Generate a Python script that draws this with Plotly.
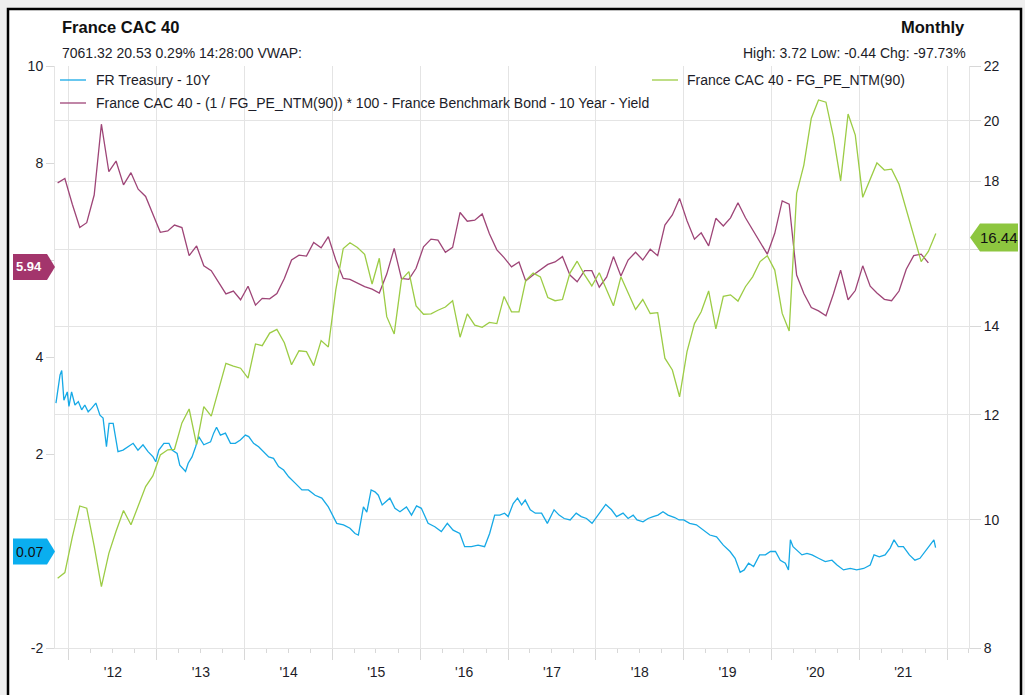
import math
import pandas as pd
import plotly.graph_objects as go

# ---- data ----
# FR Treasury - 10Y (daily series, sampled)
treasury_dates = [
    "2011-11-08", "2011-11-25", "2011-12-02", "2011-12-11", "2011-12-25",
    "2012-01-01", "2012-01-12", "2012-01-26", "2012-02-09", "2012-02-23", "2012-03-07",
    "2012-03-21", "2012-04-04", "2012-04-22", "2012-05-09", "2012-05-22", "2012-06-05",
    "2012-06-16", "2012-07-03", "2012-07-17", "2012-07-23", "2012-08-13", "2012-09-03",
    "2012-09-24", "2012-10-14", "2012-11-04", "2012-11-25", "2012-12-16", "2012-12-27",
    "2013-01-09", "2013-01-30", "2013-02-20", "2013-03-05", "2013-03-26", "2013-04-06",
    "2013-04-30", "2013-05-11", "2013-05-27", "2013-06-11", "2013-06-24", "2013-07-15",
    "2013-08-12", "2013-08-25", "2013-09-06", "2013-09-22", "2013-10-13", "2013-11-03",
    "2013-11-23", "2013-12-14",
    "2014-01-04", "2014-01-18", "2014-02-07", "2014-02-28", "2014-03-21", "2014-04-11",
    "2014-05-01", "2014-05-22", "2014-06-12", "2014-07-03", "2014-07-30", "2014-08-27",
    "2014-09-23", "2014-10-21", "2014-11-18", "2014-12-15",
    "2015-01-19", "2015-02-16", "2015-03-15", "2015-04-05", "2015-04-19", "2015-05-10",
    "2015-05-24", "2015-06-11", "2015-06-27", "2015-07-11", "2015-07-27", "2015-08-14",
    "2015-08-28", "2015-09-18", "2015-10-09", "2015-11-05", "2015-11-26", "2015-12-17",
    "2016-01-06", "2016-02-03", "2016-03-02", "2016-03-29", "2016-04-23", "2016-05-17",
    "2016-06-14", "2016-07-04", "2016-08-01", "2016-08-29", "2016-09-25", "2016-10-16",
    "2016-11-06", "2016-11-27", "2016-12-17",
    "2017-01-01", "2017-01-22", "2017-02-09", "2017-02-26", "2017-03-13", "2017-04-03",
    "2017-04-24", "2017-05-20", "2017-06-13", "2017-07-11", "2017-08-01", "2017-08-22",
    "2017-09-16", "2017-10-11", "2017-11-01", "2017-11-23", "2017-12-16",
    "2018-01-11", "2018-02-11", "2018-03-07", "2018-03-28", "2018-04-24", "2018-05-15",
    "2018-06-05", "2018-06-21", "2018-07-16", "2018-08-06", "2018-08-27", "2018-09-16",
    "2018-10-07", "2018-10-28", "2018-11-25", "2018-12-13",
    "2019-01-01", "2019-01-26", "2019-02-23", "2019-03-23", "2019-04-20", "2019-05-18",
    "2019-06-15", "2019-07-13", "2019-08-03", "2019-08-24", "2019-09-10", "2019-09-28",
    "2019-10-19", "2019-11-13", "2019-12-07", "2019-12-28",
    "2020-01-18", "2020-02-07", "2020-02-28", "2020-03-12", "2020-03-20", "2020-03-31",
    "2020-04-23", "2020-05-07", "2020-05-28", "2020-06-18", "2020-07-15", "2020-08-12",
    "2020-09-09", "2020-09-30", "2020-10-27", "2020-11-24", "2020-12-21",
    "2021-01-19", "2021-02-15", "2021-03-03", "2021-03-25", "2021-04-18", "2021-05-09",
    "2021-05-25", "2021-06-12", "2021-07-03", "2021-07-28", "2021-08-20", "2021-09-10",
    "2021-10-01", "2021-10-21", "2021-11-07", "2021-11-14",
]
treasury_yield = [
    3.05, 3.63, 3.72, 3.11, 3.28,
    2.98, 3.28, 3.01, 3.08, 2.91, 3.01, 2.87, 2.94, 3.05, 2.80, 2.74, 2.15,
    2.63, 2.63, 2.22, 2.05, 2.08, 2.15, 2.22, 2.08, 2.19, 2.05, 1.94, 1.84,
    2.08, 2.22, 2.22, 2.08, 2.01, 1.77, 1.64, 1.81, 1.94, 2.15, 2.36, 2.19,
    2.25, 2.43, 2.55, 2.39, 2.43, 2.22, 2.22, 2.29,
    2.39, 2.36, 2.22, 2.15, 2.05, 1.94, 1.91, 1.74, 1.67, 1.53, 1.40, 1.26,
    1.26, 1.15, 1.09, 0.91,
    0.57, 0.54, 0.47, 0.36, 0.33, 0.91, 0.80, 1.26, 1.22, 1.15, 0.95, 1.02,
    1.09, 0.88, 0.81, 0.91, 0.74, 0.93,
    0.88, 0.57, 0.50, 0.40, 0.57, 0.43, 0.36, 0.09, 0.09, 0.12, 0.09, 0.36,
    0.74, 0.74, 0.78,
    0.71, 0.98, 1.09, 0.95, 1.05, 0.85, 0.78, 0.78, 0.57, 0.85, 0.74, 0.67,
    0.64, 0.78, 0.71, 0.67, 0.57,
    0.74, 0.96, 0.85, 0.71, 0.78, 0.67, 0.74, 0.64, 0.60, 0.67, 0.71, 0.74,
    0.81, 0.74, 0.69, 0.64,
    0.64, 0.57, 0.54, 0.43, 0.33, 0.29, 0.12, -0.01, -0.15, -0.44, -0.39, -0.25,
    -0.32, -0.08, -0.08, -0.01,
    -0.01, -0.19, -0.25, -0.39, 0.23, 0.09, -0.01, -0.08, -0.05, -0.08, -0.15, -0.22,
    -0.19, -0.29, -0.39, -0.36, -0.39,
    -0.36, -0.29, -0.08, -0.12, -0.08, 0.06, 0.23, 0.09, 0.09, -0.08, -0.19, -0.15,
    -0.01, 0.12, 0.23, 0.07,
]

# monthly series, Nov 2011 onwards
month_dates = pd.date_range("2011-11-01", periods=121, freq="MS") + pd.Timedelta(days=14)

# (1 / FG_PE_NTM) * 100 - 10Y yield  (left axis)
spread = [
    7.59, 7.68, 7.15, 6.67, 6.77, 7.34, 8.80, 7.82, 8.04, 7.55,
    7.80, 7.46, 7.31, 6.95, 6.57, 6.60, 6.72, 6.67, 6.09, 6.29,
    5.88, 5.78, 5.55, 5.30, 5.36, 5.18, 5.46, 5.07, 5.21, 5.20,
    5.31, 5.62, 6.00, 6.10, 6.08, 6.36, 6.25, 6.48, 6.00, 5.62,
    5.60, 5.52, 5.45, 5.40, 5.32, 5.71, 6.24, 5.62, 5.60, 5.83,
    6.27, 6.43, 6.41, 6.16, 6.26, 6.98, 6.80, 6.82, 6.95, 6.54,
    6.21, 6.05, 5.86, 5.96, 5.57, 5.69, 5.79, 5.91, 5.96, 6.07,
    5.69, 5.55, 5.78, 5.78, 5.44, 5.65, 6.07, 5.67, 6.00, 6.16,
    6.00, 6.22, 6.09, 6.72, 6.93, 7.27, 6.81, 6.43, 6.56, 6.29,
    6.86, 6.70, 6.87, 7.18, 6.87, 6.62, 6.37, 6.12, 6.55, 7.22,
    7.15, 5.69, 5.31, 5.02, 4.95, 4.85, 5.30, 5.79, 5.18, 5.37,
    5.88, 5.46, 5.32, 5.19, 5.16, 5.36, 5.81, 6.09, 6.12, 5.94,
]

# FG_PE_NTM(90)  (right, log axis)
pe_ntm = [
    9.03, 9.12, 9.70, 10.24, 10.20, 9.55, 8.90, 9.43, 9.80, 10.16,
    9.91, 10.25, 10.59, 10.79, 11.19, 11.29, 11.30, 11.83, 12.12, 11.39,
    12.17, 11.97, 12.55, 13.12, 13.06, 13.01, 12.79, 13.57, 13.53, 13.83,
    13.92, 13.60, 13.09, 13.41, 13.39, 13.07, 13.65, 13.50, 14.91, 16.02,
    16.18, 16.05, 15.86, 15.06, 15.75, 14.23, 13.81, 15.17, 15.39, 14.50,
    14.29, 14.30, 14.39, 14.47, 14.63, 13.73, 14.30, 14.02, 13.97, 14.09,
    14.06, 14.74, 14.35, 14.35, 15.15, 15.35, 15.25, 14.71, 14.63, 14.66,
    15.35, 15.67, 15.30, 15.01, 15.36, 14.91, 14.50, 15.25, 14.85, 14.41,
    14.66, 14.31, 14.33, 13.24, 12.97, 12.38, 13.39, 14.06, 14.35, 14.88,
    13.93, 14.74, 14.78, 14.62, 14.99, 15.25, 15.66, 15.82, 15.43, 14.31,
    13.88, 17.63, 18.52, 20.09, 20.74, 20.66, 19.45, 18.02, 20.24, 19.51,
    17.51, 18.06, 18.59, 18.36, 18.39, 17.91, 17.13, 16.40, 15.66, 15.94,
    16.44,
]

# tick labels; 6, 0 and 16 sit under the last-value badges
left_ticks = [-2, 0, 2, 4, 6, 8, 10]
left_ticktext = ["-2", "", "2", "4", "", "8", "10"]
right_ticks = [8, 10, 12, 14, 16, 18, 20, 22]
right_ticktext = ["8", "10", "12", "14", "", "18", "20", "22"]

names = [
    "FR Treasury - 10Y",
    "France CAC 40 - (1 / FG_PE_NTM(90)) * 100 - France Benchmark Bond - 10 Year - Yield",
    "France CAC 40 - FG_PE_NTM(90)",
]

BLUE = "#16a9e6"
PURPLE = "#9e4577"
GREEN = "#9ccc45"
FONT = "Liberation Sans, Arial, sans-serif"
TXT = "#1c1c28"
GRID = "#e4e4e4"

W, H = 1025, 695
L, R, T, B = 55, 56, 66, 47
PW, PH = W - L - R, H - T - B


def px(x):
    return (x - L) / PW


def py(y):
    return (H - B - y) / PH


fig = go.Figure()
fig.add_trace(go.Scatter(x=treasury_dates, y=treasury_yield, name=names[0], mode="lines",
                         line=dict(color=BLUE, width=1.3), yaxis="y"))
fig.add_trace(go.Scatter(x=month_dates[:len(spread)], y=spread, name=names[1], mode="lines",
                         line=dict(color=PURPLE, width=1.3), yaxis="y"))
fig.add_trace(go.Scatter(x=month_dates[:len(pe_ntm)], y=pe_ntm, name=names[2], mode="lines",
                         line=dict(color=GREEN, width=1.3), yaxis="y2"))

shapes = [
    # outer frame
    dict(type="rect", xref="paper", yref="paper", x0=px(8), x1=px(1021), y0=py(720), y1=py(9),
         fillcolor="white", line=dict(color="black", width=2.5), layer="below"),
    # legend samples
    dict(type="line", xref="paper", yref="paper", x0=px(60), x1=px(86), y0=py(80), y1=py(80),
         line=dict(color=BLUE, width=1.3)),
    dict(type="line", xref="paper", yref="paper", x0=px(60), x1=px(86), y0=py(103), y1=py(103),
         line=dict(color=PURPLE, width=1.3)),
    dict(type="line", xref="paper", yref="paper", x0=px(652), x1=px(678), y0=py(80), y1=py(80),
         line=dict(color=GREEN, width=1.3)),
]

# last-value badges
left_badge = "M -42,-17 L -8,-17 L 0,-4 L -8,9 L -42,9 Z"
shapes.append(dict(type="path", path=left_badge, xref="paper", yref="y", xsizemode="pixel",
                   ysizemode="pixel", xanchor=0, yanchor=spread[-1], fillcolor="#a3356c",
                   line=dict(width=0), layer="above"))
shapes.append(dict(type="path", path=left_badge, xref="paper", yref="y", xsizemode="pixel",
                   ysizemode="pixel", xanchor=0, yanchor=treasury_yield[-1], fillcolor="#0aaeef",
                   line=dict(width=0), layer="above"))
shapes.append(dict(type="path", path="M 1,-4 L 11,-18 L 49,-18 L 49,10 L 11,10 Z", xref="paper",
                   yref="y2", xsizemode="pixel", ysizemode="pixel", xanchor=1,
                   yanchor=pe_ntm[-1], fillcolor="#8dc63f",
                   line=dict(width=0), layer="above"))

annotations = [
    dict(text="<b>France CAC 40</b>", x=px(60), y=py(27), xanchor="left", yanchor="middle",
         font=dict(size=16.5, color="#111")),
    dict(text="7061.32 20.53 0.29% 14:28:00 VWAP:", x=px(60), y=py(53), xanchor="left",
         yanchor="middle", font=dict(size=14, color=TXT)),
    dict(text="<b>Monthly</b>", x=px(967), y=py(27), xanchor="right", yanchor="middle",
         font=dict(size=16.5, color="#111")),
    dict(text="High: 3.72 Low: -0.44 Chg: -97.73%", x=px(968), y=py(53), xanchor="right",
         yanchor="middle", font=dict(size=14, color=TXT)),
    dict(text=names[0], x=px(94), y=py(80), xanchor="left", yanchor="middle",
         font=dict(size=14, color=TXT)),
    dict(text=names[1], x=px(94), y=py(103), xanchor="left", yanchor="middle",
         font=dict(size=14, color=TXT)),
    dict(text=names[2], x=px(685), y=py(80), xanchor="left", yanchor="middle",
         font=dict(size=14, color=TXT)),
]
for a in annotations:
    a.update(xref="paper", yref="paper", showarrow=False)

annotations += [
    dict(text="<b>%.2f</b>" % spread[-1], xref="paper", yref="y", x=px(29), y=spread[-1],
         xanchor="center", yanchor="middle", yshift=-4, showarrow=False,
         font=dict(size=13, color="white")),
    dict(text="%.2f" % treasury_yield[-1], xref="paper", yref="y", x=px(29),
         y=treasury_yield[-1], xanchor="center", yanchor="middle", yshift=-4,
         showarrow=False, font=dict(size=14, color="#111")),
    dict(text="%.2f" % pe_ntm[-1], xref="paper", yref="y2", x=px(999),
         y=math.log10(pe_ntm[-1]), xanchor="center", yanchor="middle", yshift=-4,
         showarrow=False, font=dict(size=15, color="#111")),
]

fig.update_layout(
    width=W, height=H,
    margin=dict(l=L, r=R, t=T, b=B),
    paper_bgcolor="#efefef",
    plot_bgcolor="white",
    font=dict(family=FONT, size=14, color=TXT),
    showlegend=False,
    shapes=shapes,
    annotations=annotations,
    xaxis=dict(
        type="date", range=["2011-11-04", "2022-04-02"],
        tick0="2012-01-01", dtick="M12", tickformat="'%y", ticklabelmode="period",
        ticks="outside", ticklen=11, tickcolor="#d8d8d8",
        showgrid=True, gridcolor=GRID, gridwidth=1,
        showline=True, linecolor=GRID,
        minor=dict(dtick="M3", ticks="outside", ticklen=4, tickcolor="#d8d8d8", showgrid=False),
        tickfont=dict(size=14, color=TXT),
    ),
    yaxis=dict(
        range=[-2, 10], tickvals=left_ticks, ticktext=left_ticktext,
        showgrid=False, zeroline=False,
        ticks="outside", ticklen=8, tickcolor="#d8d8d8",
        showline=True, linecolor=GRID, tickfont=dict(size=14, color=TXT),
    ),
    yaxis2=dict(
        type="log", range=[math.log10(8), math.log10(22)],
        tickvals=right_ticks, ticktext=right_ticktext,
        overlaying="y", side="right", showgrid=True, gridcolor=GRID, zeroline=False,
        ticks="outside", ticklen=11, tickcolor="#d8d8d8",
        showline=True, linecolor=GRID, tickfont=dict(size=14, color=TXT),
    ),
)

fig.write_html(
    "out.html",
    config={"displayModeBar": False},
    post_script="document.body.style.margin='0';document.body.style.backgroundColor='#efefef';",
)
